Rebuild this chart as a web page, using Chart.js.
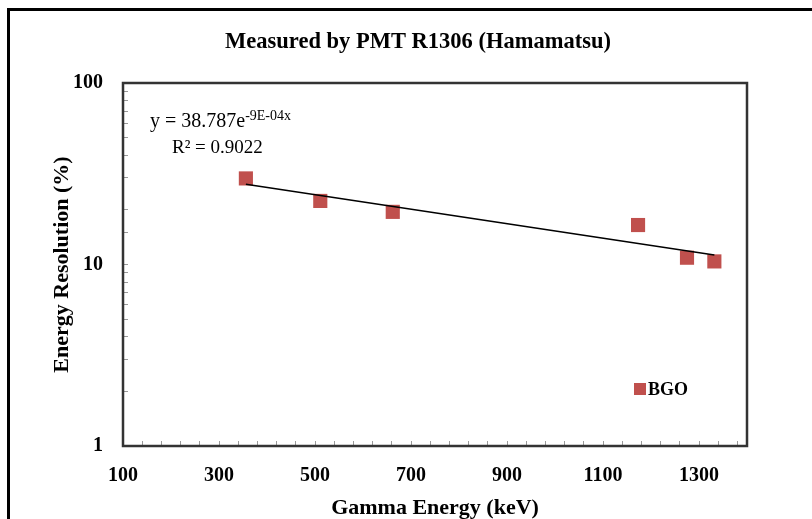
<!DOCTYPE html>
<html>
<head>
<meta charset="utf-8">
<script src="https://cdn.jsdelivr.net/npm/chart.js@4/dist/chart.umd.min.js"></script>
<style>
  html, body { margin: 0; padding: 0; background: #fff; overflow: hidden; }
  #frame {
    position: absolute; left: 7px; top: 8px; width: 900px; height: 600px;
    border-left: 3px solid #000; border-top: 3px solid #000;
  }
  #wrap { position: absolute; left: 0; top: 0; width: 812px; height: 519px; }
</style>
</head>
<body>
<div id="frame"></div>
<div id="wrap"><canvas id="chart" width="812" height="519"></canvas></div>
<script>
// Gamma lines used for the measurement (keV) and measured resolution (%)
const energies = [356, 511, 662, 1173, 1275, 1332];
const resolution = [29.8, 22.4, 19.5, 16.5, 10.9, 10.4];

const xTickLabels = [100, 300, 500, 700, 900, 1100, 1300];
const xMinorStep = 40;
const yTickLabels = [1, 10, 100];

const chartTitle = 'Measured by PMT R1306 (Hamamatsu)';
const seriesName = 'BGO';
const markerColor = '#C0504D';
const serif = "'Liberation Serif', 'Times New Roman', serif";

// exponential trend (least squares on ln y), like the spreadsheet trendline
function expFit(xs, ys) {
    const n = xs.length;
    const ly = ys.map(v => Math.log(v));
    const mx = xs.reduce((a, b) => a + b, 0) / n;
    const my = ly.reduce((a, b) => a + b, 0) / n;
    let sxy = 0, sxx = 0, syy = 0;
    for (let i = 0; i < n; i++) {
        sxy += (xs[i] - mx) * (ly[i] - my);
        sxx += (xs[i] - mx) ** 2;
        syy += (ly[i] - my) ** 2;
    }
    const b = sxy / sxx;
    const a = Math.exp(my - b * mx);
    return { a, b, r2: (b * b * sxx) / syy };
}

const fit = expFit(energies, resolution);
const xLo = Math.min(...energies);
const xHi = Math.max(...energies);
const trendPoints = [
    { x: xLo, y: fit.a * Math.exp(fit.b * xLo) },
    { x: xHi, y: fit.a * Math.exp(fit.b * xHi) }
];

// title, plot frame, equation and legend
const extras = {
    id: 'extras',
    afterDatasetsDraw(chart) {
        const { ctx, chartArea: ca } = chart;
        ctx.save();
        ctx.strokeStyle = '#333';
        ctx.lineWidth = 2.5;
        ctx.strokeRect(ca.left, ca.top, ca.right - ca.left, ca.bottom - ca.top);

        ctx.fillStyle = '#000';
        ctx.textBaseline = 'middle';
        ctx.textAlign = 'center';
        ctx.font = `bold 22.5px ${serif}`;
        ctx.fillText(chartTitle, 418, 42);

        // trendline equation
        ctx.textAlign = 'left';
        const ex = ca.left + 27, ey = ca.top + 39;
        ctx.font = `20px ${serif}`;
        const main = 'y = 38.787e';
        ctx.fillText(main, ex, ey);
        const w = ctx.measureText(main).width;
        ctx.font = `14px ${serif}`;
        ctx.fillText('-9E-04x', ex + w, ey - 6);
        ctx.font = `19px ${serif}`;
        ctx.fillText('R\u00b2 = 0.9022', ex + 22, ey + 26);

        // legend
        const lx = ca.left + 511, ly = ca.top + 306;
        ctx.fillStyle = markerColor;
        ctx.fillRect(lx, ly - 6, 12, 12);
        ctx.fillStyle = '#000';
        ctx.font = `bold 18px ${serif}`;
        ctx.fillText(seriesName, lx + 14, ly + 1);
        ctx.restore();
    }
};

new Chart(document.getElementById('chart'), {
    type: 'scatter',
    data: {
        datasets: [
            {
                label: 'trend',
                type: 'line',
                data: trendPoints,
                borderColor: '#000',
                borderWidth: 1.5,
                pointRadius: 0,
                fill: false,
                order: 0
            },
            {
                label: seriesName,
                data: energies.map((e, i) => ({ x: e, y: resolution[i] })),
                pointStyle: 'rect',
                pointRadius: 10,
                backgroundColor: markerColor,
                borderColor: markerColor,
                borderWidth: 0,
                order: 1
            }
        ]
    },
    options: {
        responsive: false,
        animation: false,
        layout: { padding: { left: 40, right: 65, top: 83, bottom: 0 } },
        plugins: {
            legend: { display: false },
            tooltip: { enabled: false },
            title: { display: false }
        },
        scales: {
            x: {
                type: 'linear',
                min: 100,
                max: 1400,
                afterBuildTicks(scale) {
                    const ticks = [];
                    for (let v = scale.min; v < scale.max; v += xMinorStep) ticks.push({ value: v });
                    scale.ticks = ticks;
                },
                afterFit(scale) { scale.height = 73; },
                grid: { drawOnChartArea: false, drawTicks: true, tickLength: -5, color: '#999', lineWidth: 1 },
                border: { display: false },
                ticks: {
                    autoSkip: false,
                    maxRotation: 0,
                    padding: 23,
                    color: '#000',
                    font: { family: serif, size: 20, weight: 'bold' },
                    callback: v => (xTickLabels.includes(v) ? String(v) : '')
                },
                title: {
                    display: true,
                    text: 'Gamma Energy (keV)',
                    color: '#000',
                    font: { family: serif, size: 22, weight: 'bold', lineHeight: 1.0 },
                    padding: { top: 0, bottom: 0 }
                }
            },
            y: {
                type: 'logarithmic',
                min: 1,
                max: 100,
                afterFit(scale) { scale.width = 83; },
                grid: { drawOnChartArea: false, drawTicks: true, tickLength: -5, color: '#999', lineWidth: 1 },
                border: { display: false },
                ticks: {
                    autoSkip: false,
                    padding: 25,
                    color: '#000',
                    font: { family: serif, size: 20, weight: 'bold' },
                    callback: v => (yTickLabels.includes(v) ? String(v) : '')
                },
                title: {
                    display: true,
                    text: 'Energy Resolution (%)',
                    color: '#000',
                    font: { family: serif, size: 22, weight: 'bold', lineHeight: 1.2 },
                    padding: { top: 9, bottom: 0 }
                }
            }
        }
    },
    plugins: [extras]
});
</script>
</body>
</html>
